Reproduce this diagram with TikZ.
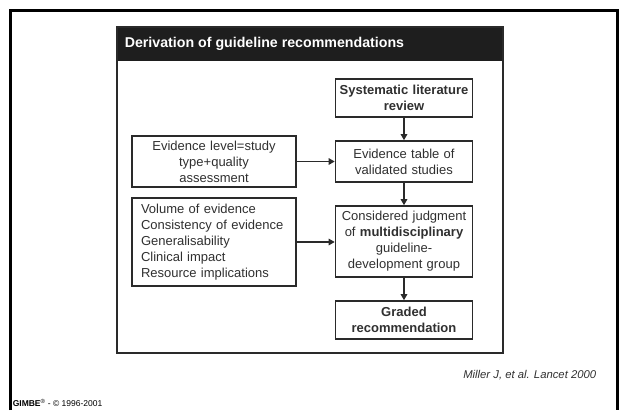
\documentclass[tikz,border=0pt]{standalone}
\usepackage{fontspec}
\setmainfont{Liberation Sans}
\usetikzlibrary{arrows.meta, positioning}
\definecolor{cdark}{HTML}{1E1E1E}
\definecolor{cline}{HTML}{2A2A2A}
\definecolor{ctext}{HTML}{303030}
\tikzset{
  every picture/.style={x=1pt, y=-1pt, line width=1.6pt},
  box/.style={draw=cline, fill=white, align=center, inner sep=0pt, text=ctext,
    minimum width=#1, text width=#1-6pt, font=\fontsize{13}{16}\selectfont},
  box/.default=137pt,
  boldbox/.style={box, font=\fontsize{13}{16}\selectfont\bfseries},
  arrow/.style={-{Triangle[length=6pt, width=6.5pt]}, draw=cline, line width=1.3pt},
  title/.style={font=\fontsize{14.2}{16}\selectfont\bfseries, text=white, anchor=west, inner sep=0pt},
  note/.style={font=\fontsize{11.3}{13}\selectfont\itshape, text=ctext, anchor=east, inner sep=0pt},
}

\begin{document}
\begin{tikzpicture}
  \useasboundingbox (0,0) rectangle (619,410);
  % slide frame and panel
  \draw[line width=3pt] (10,410) -- (10,10) -- (617,10) -- (617,410);
  \fill[cdark] (117,27) rectangle (503,61);
  \draw[cline] (117,27) rectangle (503,353);
  \node[title] (head) at (124,44) {Derivation of guideline recommendations};
  % main column
  \node[boldbox, minimum height=38pt] (review) at (404,98) {Systematic literature\\review};
  \node[box, minimum height=41pt] (table) at (404,161.5) {Evidence table of\\validated studies};
  \node[box, minimum height=71pt] (judge) at (404,241.5) {Considered judgment\\of \textbf{multidisciplinary}\\guideline-\\development group};
  \node[boldbox, minimum height=38pt] (graded) at (404,320) {Graded\\recommendation};
  % left column
  \node[box=164pt, minimum height=51pt] (level) at (214,161.5) {Evidence level=study\\type+quality\\assessment};
  \node[box=164pt, minimum height=88pt, align=left, text width=146pt] (criteria) at (214,242) {Volume of evidence\\Consistency of evidence\\Generalisability\\Clinical impact\\Resource implications};
  % connectors
  \draw[arrow] (review) -- (table);
  \draw[arrow] (table) -- (judge);
  \draw[arrow] (judge) -- (graded);
  \draw[arrow] (level) -- (table);
  \draw[arrow] (criteria.east) -- (criteria.east -| judge.west);
  % footer
  \node[note] (cite) at (597,375) {Miller J, et al. Lancet 2000};
  \node[anchor=west, inner sep=0pt, font=\fontsize{8.5}{10}\selectfont] (gimbe) at (12,403) {\textbf{GIMBE}\textsuperscript{®} - © 1996-2001};
\end{tikzpicture}
\end{document}
